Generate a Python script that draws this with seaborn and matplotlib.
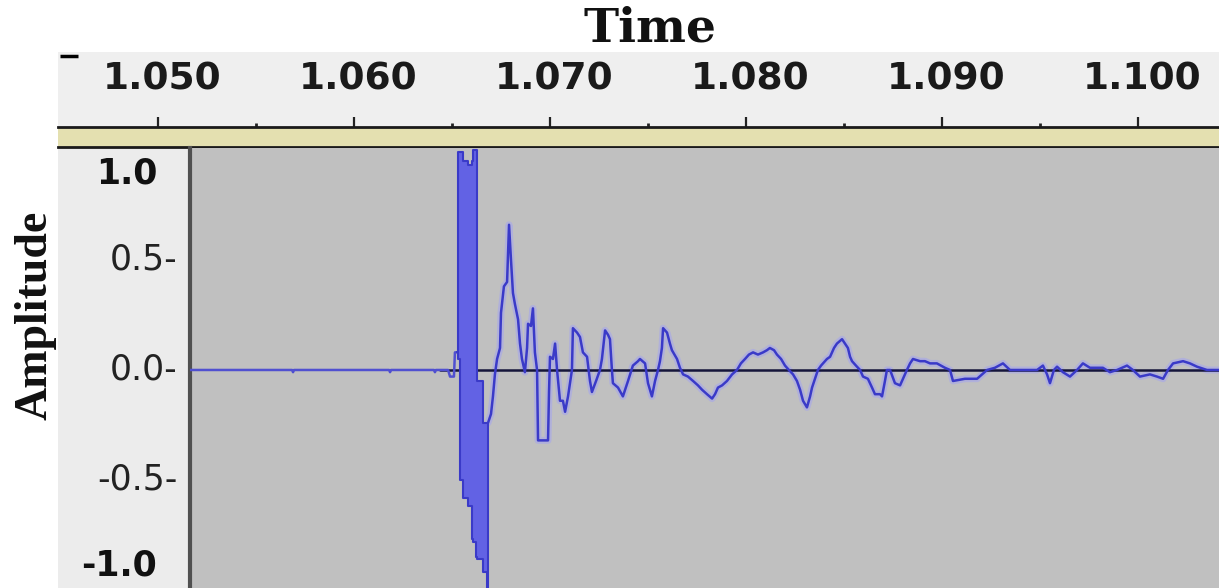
import numpy as np
import pandas as pd
import matplotlib
matplotlib.use("Agg")
import matplotlib.pyplot as plt
from matplotlib.patches import Rectangle
from matplotlib import transforms
import seaborn as sns

# ---------------- data ----------------
# time axis ticks (s)
xtick_major = [1.050, 1.060, 1.070, 1.080, 1.090, 1.100]
xtick_labels = ["1.050", "1.060", "1.070", "1.080", "1.090", "1.100"]
xtick_minor = [1.055, 1.065, 1.075, 1.085, 1.095]
ytick_values = [1.0, 0.5, 0.0, -0.5, -1.0]
ytick_labels = ["1.0", "0.5-", "0.0-", "-0.5-", "-1.0"]

# quiet part before the impulse
pre_t = [1.05163, 1.05684, 1.05689, 1.05694, 1.06179, 1.06184, 1.06189, 1.06408, 1.06413, 1.06418,
         1.06480, 1.06490, 1.06510, 1.06515, 1.06526]
pre_a = [0.0, 0.0, -0.01, 0.0, 0.0, -0.01, 0.0, 0.0, -0.01, 0.0,
         0.0, -0.03, -0.03, 0.08, 0.08]

# impulse envelope (max / min per column)
spike_t = [1.06526, 1.06531, 1.06541, 1.06556, 1.06582, 1.06602, 1.06607, 1.06622, 1.06628, 1.06658, 1.06679, 1.06684]
spike_max = [0.08, 0.99, 0.99, 0.95, 0.93, 0.95, 1.0, 1.0, -0.05, -0.24, -0.24, -0.24]
spike_min = [0.08, 0.05, -0.50, -0.58, -0.62, -0.77, -0.78, -0.85, -0.86, -0.92, -0.99, -0.24]

# decaying ringing after the impulse
ring_t = [1.06684, 1.06699, 1.06709, 1.06719, 1.06730, 1.06745, 1.06750, 1.06765, 1.06781, 1.06791,
          1.06801, 1.06811, 1.06821, 1.06837, 1.06847, 1.06857, 1.06872, 1.06883, 1.06888, 1.06903,
          1.06913, 1.06923, 1.06934, 1.06939, 1.06990, 1.06995, 1.07000, 1.07015, 1.07026, 1.07036,
          1.07051, 1.07066, 1.07077, 1.07092, 1.07112, 1.07117, 1.07138, 1.07153, 1.07168, 1.07189,
          1.07204, 1.07214, 1.07235, 1.07255, 1.07265, 1.07281, 1.07296, 1.07306, 1.07316, 1.07321,
          1.07347, 1.07372, 1.07398, 1.07423, 1.07449, 1.07459, 1.07485, 1.07500, 1.07520, 1.07536,
          1.07551, 1.07561, 1.07571, 1.07577, 1.07597, 1.07612, 1.07622, 1.07648, 1.07663, 1.07679,
          1.07704, 1.07730, 1.07755, 1.07776, 1.07801, 1.07827, 1.07842, 1.07857, 1.07878, 1.07903,
          1.07929, 1.07954, 1.07974, 1.07995, 1.08015, 1.08036, 1.08061, 1.08087, 1.08107, 1.08122,
          1.08143, 1.08158, 1.08179, 1.08199, 1.08219, 1.08240, 1.08260, 1.08276, 1.08291, 1.08311,
          1.08327, 1.08337, 1.08352, 1.08367, 1.08383, 1.08393, 1.08413, 1.08429, 1.08449, 1.08464,
          1.08490, 1.08505, 1.08520, 1.08531, 1.08541, 1.08561, 1.08582, 1.08597, 1.08622, 1.08643,
          1.08658, 1.08684, 1.08694, 1.08709, 1.08719, 1.08735, 1.08760, 1.08786, 1.08806, 1.08821,
          1.08837, 1.08852, 1.08888, 1.08913, 1.08939, 1.08974, 1.09015, 1.09041, 1.09056, 1.09117,
          1.09179, 1.09230, 1.09270, 1.09311, 1.09347, 1.09398, 1.09485, 1.09515, 1.09536, 1.09551,
          1.09571, 1.09587, 1.09617, 1.09653, 1.09689, 1.09719, 1.09755, 1.09821, 1.09857, 1.09893,
          1.09944, 1.09974, 1.10010, 1.10061, 1.10097, 1.10128, 1.10153, 1.10179, 1.10230, 1.10265,
          1.10301, 1.10352, 1.10413]
ring_a = [-0.24, -0.20, -0.12, -0.02, 0.05, 0.10, 0.26, 0.38, 0.40, 0.66,
          0.50, 0.35, 0.30, 0.23, 0.12, 0.05, -0.01, 0.10, 0.21, 0.20,
          0.28, 0.08, 0.00, -0.32, -0.32, -0.10, 0.06, 0.05, 0.12, 0.00,
          -0.14, -0.14, -0.19, -0.12, 0.00, 0.19, 0.17, 0.15, 0.08, 0.06,
          -0.05, -0.10, -0.05, 0.00, 0.05, 0.18, 0.16, 0.14, 0.00, -0.06,
          -0.08, -0.12, -0.05, 0.02, 0.04, 0.05, 0.03, -0.06, -0.12, -0.05,
          0.00, 0.04, 0.10, 0.19, 0.17, 0.12, 0.09, 0.05, 0.01, -0.02,
          -0.03, -0.05, -0.07, -0.09, -0.11, -0.13, -0.11, -0.08, -0.07, -0.05,
          -0.02, 0.00, 0.03, 0.05, 0.07, 0.08, 0.07, 0.08, 0.09, 0.10,
          0.09, 0.07, 0.05, 0.02, 0.00, -0.02, -0.05, -0.09, -0.14, -0.17,
          -0.12, -0.08, -0.04, 0.00, 0.02, 0.03, 0.05, 0.06, 0.10, 0.12,
          0.14, 0.12, 0.10, 0.06, 0.04, 0.02, 0.00, -0.03, -0.04, -0.08,
          -0.11, -0.11, -0.12, -0.05, 0.00, 0.00, -0.06, -0.07, -0.03, 0.00,
          0.03, 0.05, 0.04, 0.04, 0.03, 0.03, 0.01, 0.00, -0.05, -0.04,
          -0.04, 0.00, 0.01, 0.03, 0.00, 0.00, 0.00, 0.02, -0.02, -0.06,
          0.00, 0.015, -0.01, -0.03, 0.00, 0.03, 0.01, 0.01, -0.01, 0.00,
          0.02, 0.00, -0.03, -0.02, -0.03, -0.04, 0.00, 0.03, 0.04, 0.03,
          0.015, 0.00, 0.00]

# ---------------- layout ----------------
W, H = 1219, 588
T_LEFT, T_RIGHT = 1.051633, 1.104133      # visible time range of waveform panel
T_RULER_LEFT = 1.044898
Y_TOP, Y_BOT = 1.009, -0.991

sns.set_style("white")
plt.rcParams["font.family"] = ["DejaVu Sans"]

fig = plt.figure(figsize=(W / 100, H / 100), dpi=100, facecolor="white")

def fx(px):
    return px / W

def fy(py):
    return 1 - py / H

# left panel background
fig.patches.append(Rectangle((fx(58), 0), fx(190 - 58), fy(147), transform=fig.transFigure,
                             facecolor="#ececec", edgecolor="none", zorder=-5))

# ruler
rax = fig.add_axes([fx(58), fy(127), fx(W - 58), (127 - 52) / H])
rax.set_facecolor("#efefef")
rax.set_xlim(T_RULER_LEFT, T_RIGHT)
rax.set_ylim(0, 1)
for s in rax.spines.values():
    s.set_visible(False)
rax.set_yticks([])
rax.set_xticks(xtick_major)
rax.set_xticks(xtick_minor, minor=True)
rax.set_xticklabels([])
rax.tick_params(axis="x", which="major", direction="in", length=7, width=1.6, color="#222222", bottom=True)
rax.tick_params(axis="x", which="minor", direction="in", length=3, width=2.0, color="#222222", bottom=True)
for t, lab in zip(xtick_major, xtick_labels):
    rax.text(t + 0.0002, 0.63, lab, ha="center", va="center", fontsize=27, fontweight="bold",
             color="#1a1a1a")
rax.plot([0.0017, 0.0172], [0.95, 0.95], transform=rax.transAxes, color="black", lw=2.5,
         solid_capstyle="butt", clip_on=False)

# yellow separator band
bax = fig.add_axes([fx(58), fy(147), fx(W - 58), 20 / H])
bax.set_facecolor("#e4e0b0")
bax.set_xticks([])
bax.set_yticks([])
for k in ["left", "right"]:
    bax.spines[k].set_visible(False)
for k in ["top", "bottom"]:
    bax.spines[k].set_color("#1a1a1a")
    bax.spines[k].set_linewidth(2.0)

# waveform panel
ax = fig.add_axes([fx(190), 0, fx(W - 190), fy(148)])
ax.set_facecolor("#c0c0c0")
ax.set_xlim(T_LEFT, T_RIGHT)
ax.set_ylim(Y_BOT, Y_TOP)
for k in ["top", "right", "bottom"]:
    ax.spines[k].set_visible(False)
ax.spines["left"].set_color("#505050")
ax.spines["left"].set_linewidth(3.0)
ax.set_xticks([])
ax.set_yticks([])

wave_col = "#3a3ac8"
halo_col = "#a6a6ec"

# zero reference line
ax.axhline(0, xmin=0.243, xmax=1, color="#15153a", lw=1.8, zorder=2)

pre_df = pd.DataFrame({"t": pre_t, "a": pre_a})
ring_df = pd.DataFrame({"t": ring_t, "a": ring_a})

sns.lineplot(data=ring_df, x="t", y="a", ax=ax, sort=False, estimator=None,
             color=halo_col, lw=5, alpha=0.6, zorder=1)
sns.lineplot(data=pre_df, x="t", y="a", ax=ax, sort=False, estimator=None,
             color="#5050d0", lw=1.8, zorder=3)
ax.fill_between(spike_t, spike_min, spike_max, step="post", color="#6262e4", edgecolor=wave_col,
                lw=1.5, zorder=3)
sns.lineplot(data=ring_df, x="t", y="a", ax=ax, sort=False, estimator=None,
             color=wave_col, lw=1.8, zorder=4)
ax.set_xlabel("")
ax.set_ylabel("")

# y tick labels
ytrans = transforms.blended_transform_factory(ax.transAxes, ax.transData)
for v, lab in zip(ytick_values, ytick_labels):
    if lab.endswith("-"):
        ax.text(-12 / (W - 190), v, lab, transform=ytrans, ha="right", va="center",
                fontsize=25, color="#222222", clip_on=False, zorder=10)
    else:
        off = transforms.offset_copy(ytrans, fig=fig, x=0, y=(-7 if v > 0 else 7), units="dots")
        ax.text(-33 / (W - 190), v, lab, transform=off, ha="right",
                va=("top" if v > 0 else "bottom"), fontsize=25, fontweight="bold",
                color="#111111", clip_on=False, zorder=10)

# titles
fig.text(fx(650), fy(29), "Time", ha="center", va="center", fontsize=34, fontweight="bold",
         family=["DejaVu Serif"], color="#111111")
fig.text(fx(36), fy(315), "Amplitude", ha="center", va="center", rotation=90, fontsize=33,
         fontweight="bold", family=["Liberation Serif"], color="#111111")

fig.savefig("out.png", dpi=100, facecolor="white")
